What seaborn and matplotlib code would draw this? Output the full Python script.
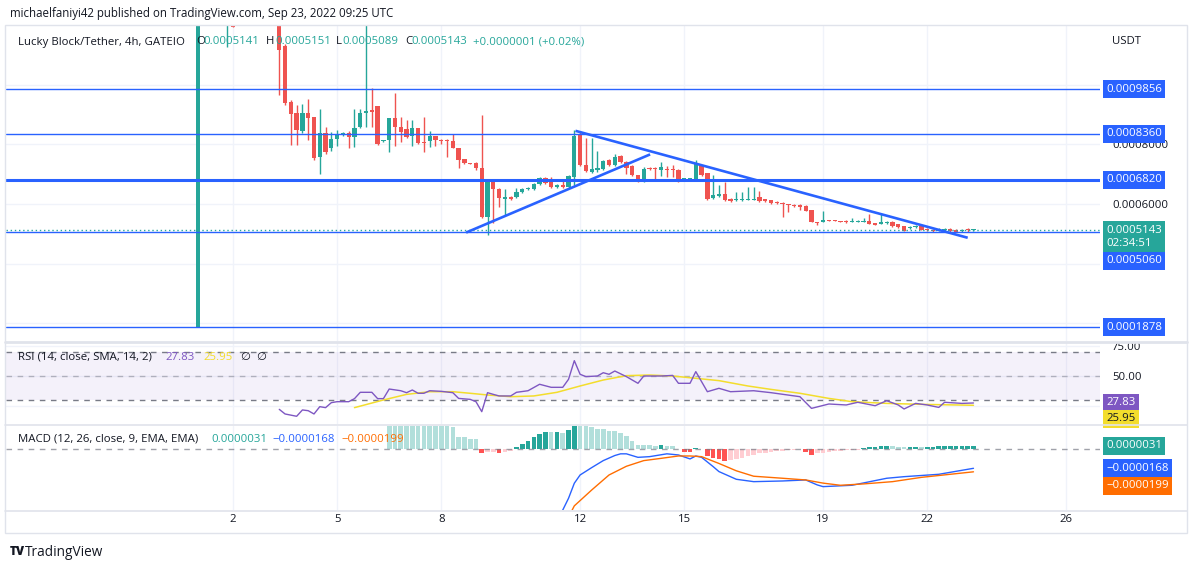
import numpy as np
import matplotlib
matplotlib.use("Agg")
import matplotlib.pyplot as plt
import matplotlib.transforms as mtransforms
from matplotlib.lines import Line2D
from matplotlib.patches import Rectangle
from matplotlib.ticker import FuncFormatter
import seaborn as sns

# LKT/USDT 4h candles from Sep 1 00:00 UTC, prices in units of 1e-7 USDT.
# None = candle sits wholly above the top of the price pane.
bar_open = [1880, None, None, None, None, 13000, 13000, None, None, None,
            None, None, None, None, 13000, 11297, 9420, 9051, 8448, 9051,
            8917, 7576, 8381, 7878, 8180, 8347, 8381, 8247, 8582, 9051,
            9152, 9286, 8113, 8146, 8884, 8582, 8515, 8280, 8548, 8079,
            8113, 8280, 8146, 8146, 8113, 7878, 7509, 7375, 7375, 7208,
            5565, 6738, 6504, 6169, 6236, 6236, 6403, 6504, 6504, 6671,
            6872, 6772, 6571, 6638, 6571, 6906, 8347, 7308, 7074, 7141,
            7174, 7476, 7308, 7610, 7409, 7275, 6973, 6772, 7208, 7208,
            7141, 7174, 7174, 7141, 6839, 6805, 6805, 7275, 7040, 6202,
            6269, 6336, 6169, 6135, 6135, 6135, 6135, 6236, 6169, 6135,
            6068, 6034, 6001, 5967, 5967, 5934, 5800, 5398, 5398, 5465,
            5465, 5431, 5431, 5398, 5398, 5398, 5431, 5364, 5331, 5364,
            5398, 5331, 5264, 5196, 5230, 5264, 5180, 5146, 5096, 5129,
            5163, 5129, 5096, 5163, 5141]
bar_high = [13000, None, None, None, None, 13000, 13000, None, None, None,
            None, None, None, None, 13000, 11364, 9487, 9319, 9353, 9521,
            8917, 9185, 8582, 8414, 8481, 8414, 8448, 9185, 9185, 12100,
            9889, 9286, 8146, 8884, 9722, 8917, 8817, 8817, 8548, 8917,
            8448, 8280, 8180, 8180, 8347, 7878, 7509, 7375, 7409, 8984,
            6772, 6772, 6537, 6504, 6269, 6537, 6537, 6571, 6705, 6906,
            6906, 6906, 6671, 6805, 6973, 8481, 8448, 8213, 8213, 7778,
            7476, 7509, 7677, 7643, 7442, 7308, 6973, 7241, 7241, 7241,
            7409, 7275, 7308, 7174, 6872, 6872, 7476, 7308, 7040, 6973,
            6638, 6738, 6202, 6403, 6403, 6571, 6571, 6437, 6169, 6135,
            6102, 6068, 6001, 6001, 6001, 5967, 5800, 5398, 5766, 5465,
            5465, 5431, 5465, 5532, 5465, 5532, 5666, 5364, 5666, 5431,
            5431, 5331, 5264, 5264, 5297, 5331, 5196, 5163, 5196, 5196,
            5196, 5163, 5163, 5196, 5151]
bar_low = [1878, None, None, None, None, 11264, 11934, None, None, None,
           None, None, None, None, 9655, 9319, 7979, 7979, 8381, 8146,
           7476, 7007, 7677, 7778, 7945, 8280, 7878, 7912, 8548, 8582,
           8582, 7979, 8079, 7744, 7945, 8079, 8213, 7945, 8012, 7744,
           7912, 7945, 8012, 7576, 7878, 7208, 7342, 7342, 7141, 5532,
           4962, 5364, 5900, 5632, 6135, 6202, 6370, 6470, 6470, 6638,
           6671, 6537, 6537, 6537, 6537, 6638, 7275, 7074, 7040, 7074,
           7141, 7275, 7275, 7375, 7007, 6940, 6738, 6738, 7141, 6839,
           6940, 6906, 6906, 6738, 6805, 6772, 6772, 6940, 6135, 6169,
           6236, 6102, 6068, 6102, 6102, 6135, 6135, 6068, 6068, 6001,
           6001, 5565, 5733, 5900, 5800, 5766, 5398, 5297, 5398, 5431,
           5431, 5398, 5364, 5398, 5398, 5398, 5331, 5297, 5331, 5331,
           5230, 5196, 5096, 5163, 5196, 5129, 5096, 5062, 5096, 5096,
           5062, 5062, 5062, 5062, 5089]
bar_close = [13000, None, None, None, None, 13000, 11934, None, None, None,
             None, None, None, None, 11163, 9386, 9018, 8481, 9051, 8884,
             7543, 8381, 7744, 8180, 8347, 8381, 8247, 8548, 9051, 9118,
             9085, 8012, 8146, 8884, 8582, 8414, 8247, 8548, 8046, 8046,
             8280, 8146, 8129, 8113, 7878, 7476, 7375, 7342, 7208, 5565,
             6738, 6504, 6202, 6236, 6169, 6403, 6504, 6537, 6671, 6872,
             6705, 6571, 6638, 6571, 6940, 8280, 7308, 7107, 7174, 7208,
             7442, 7308, 7576, 7409, 7208, 6973, 6772, 7174, 7174, 7174,
             7241, 7157, 7141, 6805, 6856, 6872, 7342, 6973, 6169, 6303,
             6336, 6135, 6102, 6169, 6169, 6169, 6169, 6102, 6102, 6034,
             6034, 6001, 5967, 5950, 5900, 5766, 5398, 5381, 5465, 5448,
             5431, 5414, 5398, 5448, 5448, 5448, 5331, 5314, 5398, 5398,
             5264, 5230, 5096, 5230, 5264, 5146, 5129, 5096, 5146, 5163,
             5096, 5079, 5146, 5142, 5143]

# horizontal levels and trend lines drawn on the chart
level_prices = [0.0009856, 0.0008360, 0.0006820, 0.0005060, 0.0001878]
rise_bars, rise_prices = [46.3, 78.1], [0.0005046, 0.0007667]
fall_bars, fall_prices = [65.2, 133.0], [0.0008458, 0.0004871]

# RSI(14) and its SMA(14)
rsi_bars = [14, 15, 17, 18, 19, 20, 21, 22, 23, 24, 26, 27, 28, 30, 31, 32, 33, 35, 36, 37,
            38, 39, 40, 42, 44, 45, 47, 48, 49, 50, 51, 52, 54, 55, 57, 59, 61, 63, 64, 65,
            66, 67, 69, 70, 71, 72, 74, 76, 77, 80, 82, 83, 85, 86, 88, 90, 92, 96, 99, 104,
            106, 109, 112, 114, 117, 119, 121, 122, 124, 126, 128, 129, 132, 134]
rsi_vals = [22.6, 18.8, 16.9, 22.1, 21.5, 18.8, 24.8, 24.0, 28.1, 28.9, 28.9, 31.4, 36.6, 36.6,
            31.4, 31.4, 39.3, 37.9, 36.3, 38.5, 35.8, 35.8, 37.9, 37.4, 36.3, 31.6, 30.8, 28.9,
            20.7, 36.3, 34.9, 33.6, 33.6, 36.6, 37.9, 43.2, 40.7, 40.7, 47.3, 62.6, 51.4, 49.5,
            50.0, 52.7, 51.4, 54.1, 49.5, 44.0, 50.0, 50.0, 50.5, 44.0, 44.0, 53.6, 37.1, 39.9,
            37.1, 37.9, 36.3, 33.0, 23.4, 27.0, 26.2, 28.4, 25.6, 29.7, 26.2, 22.9, 27.5, 26.2,
            24.2, 28.4, 27.5, 27.83]
rsi_ma_bars = [27, 32, 36, 40, 44, 47, 50, 54, 58, 62, 66, 70, 74, 78, 82, 86, 90, 95, 99,
               104, 109, 113, 119, 125, 134]
rsi_ma_vals = [24.0, 30.3, 34.9, 37.1, 37.1, 35.8, 34.4, 33.0, 33.6, 36.6, 41.8, 46.7, 50.3,
               50.8, 50.0, 48.1, 46.2, 41.8, 39.0, 35.8, 31.6, 28.9, 27.5, 26.7, 25.95]

# MACD(12, 26, 9) in units of 1e-7; histogram starts at bar 33
hist_start = 33
hist_vals = [420, 400, 380, 360, 340, 320, 300, 280, 260, 240,
             220, 194, 112, 112, 94, 88, -35, -24, -21, -35,
             -24, -15, 24, 44, 77, 112, 139, 156, 150, 156,
             147, 171, 230, 225, 215, 194, 177, 177, 165, 165,
             142, 121, 77, 38, 38, 38, 29, 38, 29, 29,
             6, -21, -21, 9, 6, -56, -80, -85, -100, -94,
             -88, -74, -59, -50, -35, -29, -21, -15, -12, -9,
             -6, 3, -21, -50, -35, -33, -24, -18, -15, -10,
             -8, -5, 9, 16, 19, 27, 29, 28, 24, 18,
             21, 22, 22, 23, 24, 25, 26, 27, 28, 29, 30, 31]
macd_bars = [61, 63, 64, 65, 66, 68, 70, 72, 73, 74, 76, 78, 81, 83, 85, 86, 87, 89, 90, 93,
             96, 101, 105, 107, 108, 113, 119, 122, 128, 134]
macd_vals = [-700, -537, -433, -300, -227, -162, -100, -55, -40, -40, -71, -65, -40, -50, -85,
             -59, -71, -153, -197, -265, -286, -280, -271, -315, -330, -318, -256, -242, -221, -168]
signal_bars = [63, 65, 68, 71, 74, 77, 80, 83, 85, 87, 90, 93, 96, 101, 105, 108, 111, 115,
               120, 125, 134]
signal_vals = [-700, -500, -360, -227, -150, -100, -80, -59, -59, -65, -125, -190, -238, -256,
               -271, -299, -318, -306, -286, -248, -199]

day_labels = ["2", "5", "8", "12", "15", "19", "22", "26"]

# ---------------------------------------------------------------------------
sns.set_theme(style="white")
plt.rcParams["font.family"] = ["Open Sans", "DejaVu Sans"]

TEAL, RED, BLUE = "#26a69a", "#ef5350", "#2962ff"
PURPLE, YELLOW, ORANGE = "#7e57c2", "#f3dd2c", "#ff6d00"
DARK, GRID, SEP = "#131722", "#f0f3fa", "#e0e3eb"
FS = 8.2
W, H = 1194, 570
PL, PR = 6, 1100

fig = plt.figure(figsize=(W / 100, H / 100), dpi=100)
fig.patch.set_facecolor("white")


def pane(top, bottom):
    return fig.add_axes([PL / W, 1 - bottom / H, (PR - PL) / W, (bottom - top) / H])


ax_p = pane(26, 341)
ax_r = pane(343, 424)
ax_m = pane(426, 510)

day_pos = [(int(d) - 1) * 6 for d in day_labels]
for ax in (ax_p, ax_r, ax_m):
    ax.set_xlim(-33.24, 155.87)
    ax.set_xticks(day_pos)
    ax.grid(axis="x", color=GRID, lw=1)
    ax.grid(axis="y", color=GRID, lw=1)
    ax.set_axisbelow(True)
    for s in ax.spines.values():
        s.set_visible(False)
    ax.yaxis.tick_right()
    ax.tick_params(axis="both", length=0, labelsize=FS, labelcolor=DARK)
    ax.tick_params(axis="y", pad=8.6)
    if ax is not ax_m:
        ax.tick_params(axis="x", labelbottom=False)
ax_m.set_xticklabels(day_labels)
ax_m.tick_params(axis="x", pad=3.2)

# ---- price pane ----
o = np.array(bar_open, dtype=float) * 1e-7
hi = np.array(bar_high, dtype=float) * 1e-7
lo = np.array(bar_low, dtype=float) * 1e-7
c = np.array(bar_close, dtype=float) * 1e-7
idx = np.arange(len(o))
ok = ~np.isnan(o)
col = np.where(c >= o, TEAL, RED)
ax_p.vlines(idx[ok], lo[ok], hi[ok], colors=col[ok], lw=1, zorder=2)
body = np.maximum(np.abs(c - o), 3.4e-6)
ax_p.bar(idx[ok], body[ok], bottom=np.minimum(o, c)[ok], width=0.74,
         color=col[ok], linewidth=0, zorder=3)

for p in level_prices:
    ax_p.axhline(p, color=BLUE, lw=2.2 if p == 0.0006820 else 1.0, zorder=4)
ax_p.axhline(c[-1], color=TEAL, lw=1, ls=(0, (1, 2)), zorder=4)
ax_p.plot(rise_bars, rise_prices, color=BLUE, lw=1.9, zorder=5, solid_capstyle="butt")
ax_p.plot(fall_bars, fall_prices, color=BLUE, lw=1.9, zorder=5, solid_capstyle="butt")

ax_p.set_ylim(0.00014087, 0.00119735)
ax_p.set_yticks([0.0002, 0.0004, 0.0006, 0.0008, 0.0010])
# the 0.0002 / 0.0004 / 0.0010 labels sit under the level tags on the chart
ax_p.yaxis.set_major_formatter(
    FuncFormatter(lambda v, _: f"{v:.7f}" if 0.0005 < v < 0.0009 else ""))

# ---- RSI pane ----
ax_r.axhspan(30, 70, color=PURPLE, alpha=0.08, lw=0)
for lvl, a in ((70, 1.0), (50, 0.5), (30, 1.0)):
    ax_r.axhline(lvl, color="#787b86", lw=1, ls=(0, (4, 4)), alpha=a)
sns.lineplot(x=rsi_ma_bars, y=rsi_ma_vals, ax=ax_r, color=YELLOW, lw=1.1, legend=False)
sns.lineplot(x=rsi_bars, y=rsi_vals, ax=ax_r, color=PURPLE, lw=1.0, legend=False)
ax_r.set_ylim(10.56, 77.12)
ax_r.set_yticks([25, 50, 75])
ax_r.yaxis.set_major_formatter(FuncFormatter(lambda v, _: f"{v:.2f}" if v > 30 else ""))

# ---- MACD pane ----
hist = np.array(hist_vals, dtype=float) * 1e-7
hbars = np.arange(hist_start, hist_start + len(hist))
prev = np.r_[np.nan, hist[:-1]]
hcol = np.where(hist >= 0, np.where(prev < hist, "#26a69a", "#b2dfdb"),
                np.where(prev < hist, "#ffcdd2", "#ff5252"))
ax_m.bar(hbars, hist, width=0.8, color=hcol, linewidth=0)
ax_m.axhline(0, color="#787b86", lw=1, ls=(0, (4, 4)), alpha=0.7)
sns.lineplot(x=macd_bars, y=np.array(macd_vals) * 1e-7, ax=ax_m, color=BLUE, lw=1.0, legend=False)
sns.lineplot(x=signal_bars, y=np.array(signal_vals) * 1e-7, ax=ax_m, color=ORANGE, lw=1.0, legend=False)
ax_m.set_ylim(-5.366e-5, 2.06e-5)
ax_m.set_yticks([])


# ---- texts ----
def ftext(x, y, s, color=DARK, size=FS, **kw):
    fig.text(x / W, 1 - y / H, s, color=color, fontsize=size, va="center", ha="left", **kw)


def tag(ax, value, text, fc, tc="white", dy=0.0, va="center"):
    tr = mtransforms.blended_transform_factory(fig.transFigure, ax.transData)
    tr = tr + mtransforms.ScaledTranslation(0, -dy / 100, fig.dpi_scale_trans)
    ax.text(1106 / W, value, text, transform=tr, ha="left", va=va, color=tc,
            fontsize=FS, clip_on=False, zorder=8, linespacing=1.25,
            bbox=dict(boxstyle="square,pad=0.3", fc=fc, ec="none"))


MINUS = "\u2212"


def signed(v):
    return (MINUS if v < 0 else "") + f"{abs(v):.7f}"


ftext(10, 14, "michaelfaniyi42 published on TradingView.com, Sep 23, 2022 09:25 UTC", size=8.3)

ftext(18, 42, "Lucky Block/Tether, 4h, GATEIO")
for x_lab, x_val, lab, v in ((196, 203, "O", o[-1]), (266, 275, "H", hi[-1]),
                             (336, 342, "L", lo[-1]), (405, 411, "C", c[-1])):
    ftext(x_lab, 42, lab)
    ftext(x_val, 42, f"{v:.7f}", TEAL)
chg = c[-1] - c[-2]
ftext(473, 42, f"+{chg:.7f} (+{chg / c[-2] * 100:.2f}%)", TEAL)
ftext(1112, 41, "USDT")

ftext(18, 357, "RSI (14, close, SMA, 14, 2)")
ftext(165, 357, f"{rsi_vals[-1]:.2f}", PURPLE)
ftext(203, 357, f"{rsi_ma_vals[-1]:.2f}", YELLOW)
ftext(240, 357, "\u2205", family=["DejaVu Sans"])
ftext(256, 357, "\u2205", family=["DejaVu Sans"])

ftext(18, 439, "MACD (12, 26, close, 9, EMA, EMA)")
ftext(211, 439, signed(hist[-1]), TEAL)
ftext(272, 439, signed(macd_vals[-1] * 1e-7), BLUE)
ftext(341, 439, signed(signal_vals[-1] * 1e-7), ORANGE)

# price scale tags
for p in level_prices:
    tag(ax_p, p, f"{p:.7f}", BLUE, dy=28.6 if p == 0.0005060 else 0)
tag(ax_p, c[-1], f"{c[-1]:.7f}\n02:34:51", TEAL, dy=-5.0, va="top")
tag(ax_r, rsi_vals[-1], f"{rsi_vals[-1]:.2f}", PURPLE)
tag(ax_r, rsi_ma_vals[-1], f"{rsi_ma_vals[-1]:.2f}", YELLOW, tc=DARK, dy=13.5)
tag(ax_m, hist[-1], signed(hist[-1]), TEAL)
tag(ax_m, macd_vals[-1] * 1e-7, signed(macd_vals[-1] * 1e-7), BLUE)
tag(ax_m, signal_vals[-1] * 1e-7, signed(signal_vals[-1] * 1e-7), ORANGE, dy=14)

# frame and pane separators
fig.add_artist(Rectangle((5 / W, 1 - 533 / H), 1182 / W, 508 / H, fill=False,
                         ec=SEP, lw=1, transform=fig.transFigure))
for y_sep, w_sep in ((342, 2.0), (425, 1.2), (511, 1.2)):
    fig.add_artist(Line2D([5 / W, 1187 / W], [1 - y_sep / H] * 2, color=SEP, lw=w_sep,
                          transform=fig.transFigure))

ftext(10, 552, "TV", size=8.5, fontweight="heavy")
ftext(25, 552, "TradingView", size=9.8)

fig.savefig("out.png", dpi=100, facecolor="white")
